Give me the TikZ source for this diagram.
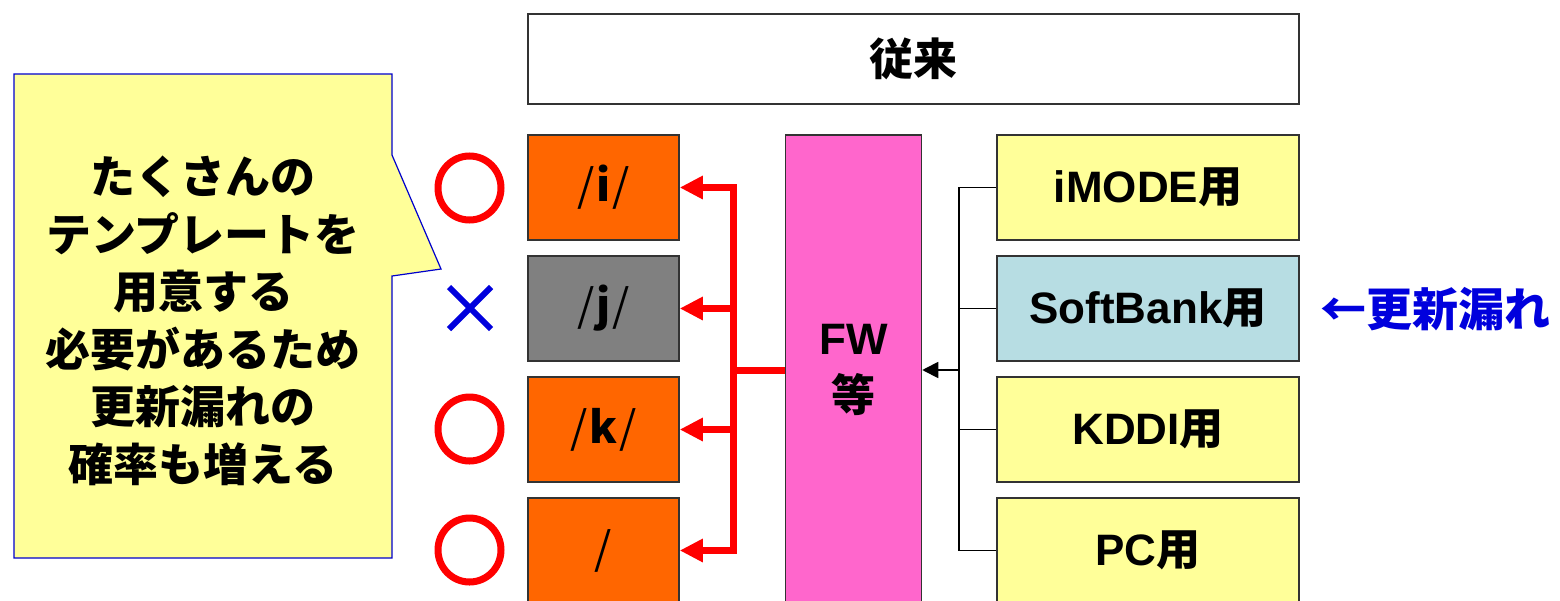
\documentclass[tikz,border=0pt]{standalone}
\usepackage{fontspec}
\setmainfont{Noto Sans CJK JP}
\newfontfamily\lat{Liberation Sans}
\usepackage{tikz}
\usepackage{xcolor}
\usetikzlibrary{arrows.meta, shapes.geometric, shapes.misc}

\definecolor{boxorange}{HTML}{FF6600}
\definecolor{boxgray}{HTML}{808080}
\definecolor{boxpink}{HTML}{FF66CC}
\definecolor{boxyellow}{HTML}{FFFF99}
\definecolor{boxblue}{HTML}{B7DDE3}
\definecolor{markblue}{HTML}{0000DD}
\newcommand{\thinslash}{{\mdseries\kern2pt/\kern2pt}}

\begin{document}
\begin{tikzpicture}[x=1pt, y=-1pt,
    box/.style={draw=black!80, line width=1.5pt, inner sep=0pt,
        minimum width=151pt, minimum height=105pt,
        font=\fontsize{44}{57}\selectfont\bfseries},
    urlbox/.style={box, fill=boxorange},
    devbox/.style={box, fill=boxyellow, minimum width=302pt},
    redline/.style={red, line width=7pt},
    redarrow/.style={redline, -{Triangle[length=23pt, width=22pt]}},
    conn/.style={black, line width=1.8pt},
    okmark/.style={ellipse, draw=red, line width=7pt, minimum width=63pt, minimum height=64pt},
    ngmark/.style={cross out, draw=markblue, line width=6pt, minimum size=36pt, inner sep=0pt}]
    \path[use as bounding box, fill=white] (0,0) rectangle (1560,600);
    \clip (0,0) rectangle (1560,600);

    % Callout
    \draw[draw=blue!80!black, fill=boxyellow, line width=1.2pt]
        (14,74) -- (392,74) -- (392,155) -- (441,269) -- (392,276)
        -- (392,558) -- (14,558) -- cycle;
    \node[align=center, font=\fontsize{45}{57.5}\selectfont\bfseries] (note) at (203,321)
        {たくさんの\\テンプレートを\\用意する\\必要があるため\\更新漏れの\\確率も増える};

    % Title
    \node[box, minimum width=771pt, minimum height=90pt, fill=white] (title) at (913.5,59) {従来};

    % URL boxes
    \node[urlbox] (ui) at (603.5,187.5) {\thinslash i\thinslash};
    \node[urlbox, fill=boxgray] (uj) at (603.5,308.5) {\thinslash j\thinslash};
    \node[urlbox] (uk) at (603.5,429.5) {\thinslash k\thinslash};
    \node[urlbox] (upc) at (603.5,550.5) {\thinslash};

    % Marks
    \node[okmark] (oki) at (469.5,188) {};
    \node[ngmark] (ngj) at (470,308) {};
    \node[okmark] (okk) at (469.5,429) {};
    \node[okmark] (okpc) at (469.5,550) {};

    % FW
    \node[box, fill=boxpink, minimum width=136pt, minimum height=470pt, align=center]
        (fw) at (853.5,370) {\lat FW\\等};

    % Device templates
    \node[devbox] (imode) at (1148,187.5) {{\lat iMODE}用};
    \node[devbox, fill=boxblue] (sb) at (1148,308.5) {{\lat SoftBank}用};
    \node[devbox] (kddi) at (1148,429.5) {{\lat KDDI}用};
    \node[devbox] (pc) at (1148,550.5) {{\lat PC}用};
    \node[text=markblue, font=\fontsize{46}{50}\selectfont\bfseries] (miss) at (1435,309) {←更新漏れ};

    % Red connectors
    \coordinate (rj) at (733,370);
    \draw[redline] (fw.west |- rj) -- (rj);
    \draw[redarrow] (rj) |- (ui.east);
    \draw[redarrow] (rj) |- (uj.east);
    \draw[redarrow] (rj) |- (uk.east);
    \draw[redarrow] (rj) |- (upc.east);

    % Black connectors
    \coordinate (bj) at (959,370);
    \draw[conn, -{Triangle[length=16pt, width=16pt]}] (bj) -- (fw.east |- bj);
    \draw[conn] (bj) |- (imode.west);
    \draw[conn] (bj) |- (sb.west);
    \draw[conn] (bj) |- (kddi.west);
    \draw[conn] (bj) |- (pc.west);
\end{tikzpicture}
\end{document}
